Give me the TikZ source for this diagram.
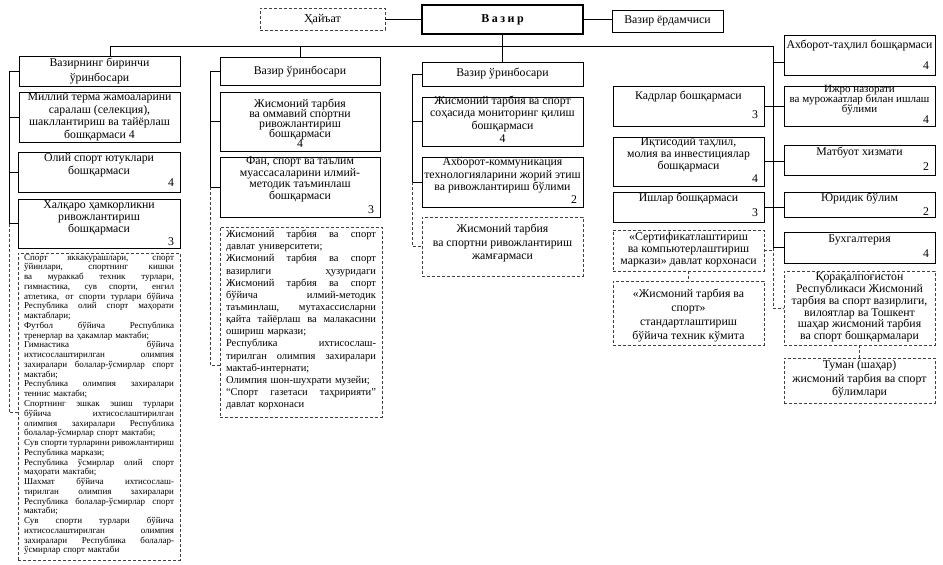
\documentclass[tikz,border=0pt]{standalone}
\usepackage{fontspec}
\setmainfont{Liberation Serif}
\usetikzlibrary{fit}
\lineskiplimit=-20pt
\lineskip=0pt
\newdimen\jw
\jw=150pt
\newcommand\fsz[2]{\fontsize{#1}{#2}\selectfont}
\newcommand\jline[1]{\hbox to\jw{\spaceskip=0.25em plus 1fil\relax #1}}
\newcommand\eline[1]{\hbox to\jw{#1\hfil}}
\newcommand\mkbox[6]{\node[#6, fit={(#2,#3) (#4,#5)}] (#1) {};}
\tikzset{
 box/.style={draw, line width=0.7pt, inner sep=0pt},
 dbox/.style={draw=black!75, line width=0.7pt, dash pattern=on 3pt off 2pt, inner sep=0pt},
 txt/.style={align=center, inner sep=0pt, font=\fsz{11.8}{12.5}},
 num/.style={inner sep=0pt, font=\fsz{11.8}{12.5}},
 conn/.style={line width=0.7pt},
 dconn/.style={line width=0.7pt, dash pattern=on 3pt off 2pt, draw=black!75},
}
\begin{document}
\begin{tikzpicture}[x=1pt,y=-1pt]
\fill[white] (0,0) rectangle (943,565);
\useasboundingbox (0,0) rectangle (943,565);

% top row
\mkbox{hay}{260}{8}{385}{30}{dbox}
\node[txt, font=\fsz{12}{13}] (hay-t) at (322.5,19.5) {Ҳайъат};
\mkbox{vazir}{422}{5}{583}{34}{box, line width=1.4pt}
\node[txt, font=\fsz{12}{13}\bfseries] (vazir-t) at (502.5,20) {В\hspace{2.5pt}а\hspace{2.5pt}з\hspace{2.5pt}и\hspace{2.5pt}р};
\mkbox{yor}{612}{10}{723}{32}{box}
\node[txt] (yor-t) at (667.5,21) {Вазир ёрдамчиси};

% column 1
\mkbox{d1}{19}{56}{180}{86}{box}
\node[txt, font=\fsz{11.8}{15}] (d1-t) at (99.5,71) {Вазирнинг биринчи\\ўринбосари};
\mkbox{b11}{19}{92}{180}{142}{box}
\node[txt] (b11-t) at (99.5,116.5) {Миллий терма жамоаларини\\саралаш (селекция),\\шакллантириш ва тайёрлаш\\бошқармаси 4};
\mkbox{b12}{18}{152}{180}{192}{box}
\node[txt, font=\fsz{11.8}{13.5}] (b12-t) at (99,165) {Олий спорт ютуклари\\бошқармаси};
\node[num] (b12-n) at (171,183) {4};
\mkbox{b13}{18}{199}{180}{248}{box}
\node[txt, font=\fsz{11.8}{11.7}] (b13-t) at (99,217.7) {Халқаро ҳамкорликни\\ривожлантириш\\бошқармаси};
\node[num] (b13-n) at (171,242) {3};
\mkbox{x1}{18}{253}{180}{560}{dbox}
\node[inner sep=0pt, text width=150pt, font=\fsz{9}{9.76}] (x1-t) at (99,404.5) {%
\jline{Спорт яккакурашлари, спорт}
\jline{ўйинлари, спортнинг кишки}
\jline{ва мураккаб техник турлари,}
\jline{гимнастика, сув спорти, енгил}
\jline{атлетика, от спорти турлари бўйича}
\jline{Республика олий спорт маҳорати}
\eline{мактаблари;}
\jline{Футбол бўйича Республика}
\eline{тренерлар ва ҳакамлар мактаби;}
\jline{Гимнастика бўйича}
\jline{ихтисослаштирилган олимпия}
\jline{захиралари болалар-ўсмирлар спорт}
\eline{мактаби;}
\jline{Республика олимпия захиралари}
\eline{теннис мактаби;}
\jline{Спортнинг эшкак эшиш турлари}
\jline{бўйича ихтисослаштирилган}
\jline{олимпия захиралари Республика}
\eline{болалар-ўсмирлар спорт мактаби;}
\jline{Сув спорти турларини ривожлантириш}
\eline{Республика маркази;}
\jline{Республика ўсмирлар олий спорт}
\eline{маҳорати мактаби;}
\jline{Шахмат бўйича ихтисослаш-}
\jline{тирилган олимпия захиралари}
\jline{Республика болалар-ўсмирлар спорт}
\eline{мактаби;}
\jline{Сув спорти турлари бўйича}
\jline{ихтисослаштирилган олимпия}
\jline{захиралари Республика болалар-}
\eline{ўсмирлар спорт мактаби}};

% column 2
\mkbox{d2}{220}{57}{380}{85}{box}
\node[txt] (d2-t) at (300,71.5) {Вазир ўринбосари};
\mkbox{b21}{220}{92}{380}{151}{box}
\node[txt, font=\fsz{11.8}{10}] (b21-t) at (300,123) {Жисмоний тарбия\\ва оммавий спортни\\ривожлантириш\\бошқармаси\\4};
\mkbox{b22}{220}{157}{380}{217}{box}
\node[txt, font=\fsz{11.8}{11.7}] (b22-t) at (300,179.5) {Фан, спорт ва таълим\\муассасаларини илмий-\\методик таъминлаш\\бошқармаси};
\node[num] (b22-n) at (371,210) {3};
\mkbox{x2}{220}{227}{382}{417}{dbox}
\node[inner sep=0pt, text width=150pt, font=\fsz{10.5}{12.14}] (x2-t) at (301,320) {%
\jline{Жисмоний тарбия ва спорт}
\eline{давлат университети;}
\jline{Жисмоний тарбия ва спорт}
\jline{вазирлиги ҳузуридаги}
\jline{Жисмоний тарбия ва спорт}
\jline{бўйича илмий-методик}
\jline{таъминлаш, мутахассисларни}
\jline{қайта тайёрлаш ва малакасини}
\eline{ошириш маркази;}
\jline{Республика ихтисослаш-}
\jline{тирилган олимпия захиралари}
\eline{мактаб-интернати;}
\eline{Олимпия шон-шухрати музейи;}
\jline{“Спорт газетаси таҳририяти”}
\eline{давлат корхонаси}};

% column 3
\mkbox{d3}{422}{62}{583}{86}{box}
\node[txt] (d3-t) at (502.5,74) {Вазир ўринбосари};
\mkbox{b31}{422}{97}{583}{146}{box}
\node[txt, font=\fsz{11.8}{12.7}] (b31-t) at (502.5,119) {Жисмоний тарбия ва спорт\\соҳасида мониторинг қилиш\\бошқармаси\\4};
\mkbox{b32}{422}{157}{583}{207}{box}
\node[txt] (b32-t) at (502.5,175.5) {Ахборот-коммуникация\\технологияларини жорий этиш\\ва ривожлантириш бўлими};
\node[num] (b32-n) at (574,200) {2};
\mkbox{x3}{422}{217}{583}{276}{dbox}
\node[txt, font=\fsz{11.8}{13.5}] (x3-t) at (502.5,243.5) {Жисмоний тарбия\\ва спортни ривожлантириш\\жамғармаси};

% column 4
\mkbox{kadr}{613}{86}{764}{126}{box}
\node[txt] (kadr-t) at (688.5,97) {Кадрлар бошқармаси};
\node[num] (kadr-n) at (755,115) {3};
\mkbox{iqt}{613}{137}{764}{186}{box}
\node[txt, font=\fsz{11.8}{12}] (iqt-t) at (688.5,155) {Иқтисодий таҳлил,\\молия ва инвестициялар\\бошқармаси};
\node[num] (iqt-n) at (755,179) {4};
\mkbox{ish}{613}{192}{764}{222}{box}
\node[txt] (ish-t) at (688.5,198.5) {Ишлар бошқармаси};
\node[num] (ish-n) at (755,213) {3};
\mkbox{sert}{613}{230}{764}{271}{dbox}
\node[txt, font=\fsz{11.8}{12}] (sert-t) at (688.5,249.5) {«Сертификатлаштириш\\ва компьютерлаштириш\\маркази» давлат корхонаси};
\mkbox{std}{613}{281}{764}{345}{dbox}
\node[txt, font=\fsz{11.8}{14}] (std-t) at (688.5,316) {«Жисмоний тарбия ва\\спорт»\\стандартлаштириш\\бўйича техник кўмита};

% right column
\mkbox{aht}{784}{35}{935}{75}{box}
\node[txt] (aht-t) at (859.5,45.5) {Ахборот-таҳлил бошқармаси};
\node[num] (aht-n) at (926,66) {4};
\mkbox{ijro}{784}{86}{935}{126}{box}
\node[txt, font=\fsz{11}{10}] (ijro-t) at (859.5,100) {Ижро назорати\\ва мурожаатлар билан ишлаш\\бўлими};
\node[num] (ijro-n) at (926,120) {4};
\mkbox{mat}{784}{145}{935}{175}{box}
\node[txt] (mat-t) at (859.5,153) {Матбуот хизмати};
\node[num] (mat-n) at (926,167) {2};
\mkbox{yur}{784}{192}{935}{217}{box}
\node[txt] (yur-t) at (859.5,199) {Юридик бўлим};
\node[num] (yur-n) at (926,212) {2};
\mkbox{bux}{784}{232}{935}{263}{box}
\node[txt] (bux-t) at (859.5,239.5) {Бухгалтерия};
\node[num] (bux-n) at (926,254) {4};
\mkbox{qq}{784}{271}{935}{345}{dbox}
\node[txt, font=\fsz{11.8}{11.8}] (qq-t) at (859.5,307.5) {Қорақалпоғистон\\Республикаси Жисмоний\\тарбия ва спорт вазирлиги,\\вилоятлар ва Тошкент\\шаҳар жисмоний тарбия\\ва спорт бошқармалари};
\mkbox{tum}{784}{358}{935}{403}{dbox}
\node[txt, font=\fsz{11.8}{13.5}] (tum-t) at (859.5,379.5) {Туман (шаҳар)\\жисмоний тарбия ва спорт\\бўлимлари};

% connectors
\coordinate (L1) at (9,0);
\coordinate (L2) at (210,0);
\coordinate (L3) at (412,0);
\coordinate (R) at (773,0);
\coordinate (bus) at (0,46);
\coordinate (d1top) at ([xshift=10.5pt]d1.north);
\draw[conn] (d1top) |- (R |- bus) -- (R |- bux.west) -- (bux.west);
\draw[conn] (d2.north) -- (d2.north |- bus);
\draw[conn] (vazir.south) -- (d3.north);
\draw[conn] (hay.east) -- (hay.east -| vazir.west);
\draw[conn] (vazir.east) -- (vazir.east -| yor.west);

\draw[conn] (d1.west) -| (L1 |- b13.west) -- (b13.west);
\draw[conn] (L1 |- b11.west) -- (b11.west);
\draw[conn] (L1 |- b12.west) -- (b12.west);
\coordinate (x1s) at ([yshift=148pt]x1.south west);
\draw[dconn] (L1 |- b13.west) |- (x1s);

\draw[conn] (d2.west) -| (L2 |- b22.west) -- (b22.west);
\draw[conn] (L2 |- b21.west) -- (b21.west);
\coordinate (x2s) at ([yshift=52pt]x2.south west);
\draw[dconn] (L2 |- b22.west) |- (x2s);

\draw[conn] (d3.west) -| (L3 |- b32.west) -- (b32.west);
\draw[conn] (L3 |- b31.west) -- (b31.west);
\draw[dconn] (L3 |- b32.west) |- (x3.west);

\coordinate (ahts) at ([yshift=-7pt]aht.west);
\draw[conn] (ahts -| R) -- (ahts);
\draw[conn] (kadr.east) -- (ijro.west);
\draw[conn] (iqt.east) -- (iqt.east -| mat.west);
\draw[conn] (ish.east) -- (ish.east -| yur.west);
\draw[dconn] (sert.east) -- (sert.east -| R);
\draw[dconn] (R |- bux.west) |- (qq.west);
\draw[dconn] (sert.south) -- (std.north);
\draw[dconn] (qq.south) -- (tum.north);
\end{tikzpicture}
\end{document}
